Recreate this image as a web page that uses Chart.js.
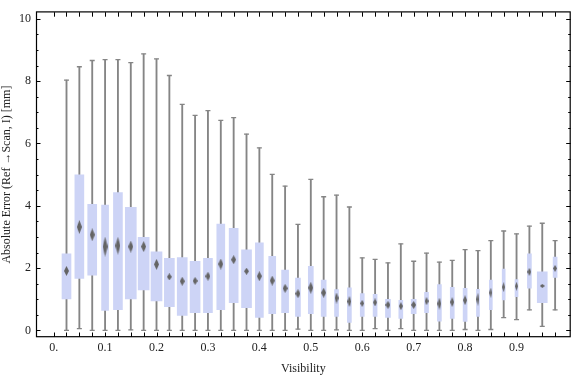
<!DOCTYPE html>
<html><head><meta charset="utf-8">
<script src="https://cdn.jsdelivr.net/npm/chart.js@4"></script>
<style>html,body{margin:0;padding:0;background:#fff;}#wrap{width:576px;height:377px;}</style>
</head><body><div id="wrap"><canvas id="c" width="576" height="377"></canvas></div>
<script>
// ---- data ----
const visibility = [0.025,0.05,0.075,0.1,0.125,0.15,0.175,0.2,0.225,0.25,0.275,0.3,0.325,0.35,0.375,0.4,0.425,0.45,0.475,0.5,0.525,0.55,0.575,0.6,0.625,0.65,0.675,0.7,0.725,0.75,0.775,0.8,0.825,0.85,0.875,0.9,0.925,0.95,0.975];
const whiskerLow  = [0,0.06,0,0,0,0.02,0,0,0,0,0,0,0,0,0,0,0,0,0.04,0,0,0.02,0,0,0.06,0,0.06,0,0,0,0,0.03,0,0.03,0.41,0.35,0.66,0.13,0.66];
const quartile1   = [1.01,1.67,1.77,0.64,0.67,1.01,1.30,0.95,0.76,0.48,0.57,0.57,0.67,0.89,0.73,0.42,0.54,0.57,0.45,0.54,0.45,0.45,0.26,0.45,0.45,0.42,0.39,0.54,0.57,0.30,0.39,0.29,0.45,0.67,0.98,1.08,1.36,0.89,1.70];
const median      = [1.91,3.32,3.07,2.69,2.72,2.69,2.69,2.12,1.72,1.58,1.59,1.74,2.13,2.27,1.90,1.74,1.60,1.35,1.18,1.37,1.21,1.04,0.93,0.87,0.90,0.82,0.78,0.82,0.94,0.86,0.91,0.97,1.00,1.21,1.39,1.42,1.88,1.43,1.99];
const quartile3   = [2.46,4.99,4.05,4.02,4.42,3.95,2.99,2.52,2.31,2.34,2.22,2.31,3.41,3.28,2.59,2.81,2.38,1.94,1.68,2.06,1.62,1.31,1.37,1.18,1.16,1.00,0.97,1.00,1.22,1.47,1.38,1.35,1.32,1.62,1.97,1.63,2.46,1.88,2.35];
const whiskerHigh = [8.03,8.46,8.66,8.69,8.69,8.59,8.87,8.71,8.18,7.25,6.90,7.05,6.74,6.83,6.30,5.86,5.01,4.63,3.40,4.85,4.29,4.34,3.96,2.33,2.28,2.17,2.78,2.22,2.48,2.19,2.25,2.59,2.56,2.88,3.19,3.10,3.35,3.44,2.88];
const xTickValues = [0,0.1,0.2,0.3,0.4,0.5,0.6,0.7,0.8,0.9];
const xTickLabels = ["0.","0.1","0.2","0.3","0.4","0.5","0.6","0.7","0.8","0.9"];
const yTickValues = [0,2,4,6,8,10];
const yTickLabels = ["0","2","4","6","8","10"];

// ---- styles (sizes in px) ----
const boxWidths = [9,9,9,7,9,11,11,11,10,10,10,9,8,9,10,8,7,7,5,5,5,4,4,4,4,5,4,5,4,4,4,4,3,3,3,3,4,10,4];
const diamondHeights = [10,14,13,20,18,12,11,11,7,9,8,9,11,9,7,10,10,9,9,12,10,11,11,7,8,8,8,8,8,12,10,10,13,10,10,9,8,4,7];
const boxColor = 'rgb(205,212,246)';
const whiskerColor = '#858585';
const diamondColor = 'rgb(100,100,100)';
const FONT = {family:'"Liberation Serif", "Times New Roman", serif', size:12};

function diamondCanvas(w, h) {
  const c = document.createElement('canvas');
  c.width = w; c.height = h;
  const g = c.getContext('2d');
  g.fillStyle = diamondColor;
  g.beginPath();
  g.moveTo(w/2, 0); g.lineTo(w, h/2); g.lineTo(w/2, h); g.lineTo(0, h/2);
  g.closePath(); g.fill();
  return c;
}
const diamonds = visibility.map((v,i)=>diamondCanvas(Math.min(5, boxWidths[i]), diamondHeights[i]));

const datasets = [];
datasets.push({
  type:'bar', label:'whiskers', grouped:false, order:3,
  data: visibility.map((v,i)=>({x:v, y:[whiskerLow[i], whiskerHigh[i]]})),
  barThickness:1.2, backgroundColor:whiskerColor, borderWidth:0
});
[...new Set(boxWidths)].forEach(w=>{
  const idx = visibility.map((v,i)=>i).filter(i=>boxWidths[i]===w);
  datasets.push({
    type:'bar', label:'box'+w, grouped:false, order:2,
    data: idx.map(i=>({x:visibility[i], y:[quartile1[i], quartile3[i]]})),
    barThickness:w, backgroundColor:boxColor, borderWidth:0
  });
});
datasets.push({
  type:'scatter', label:'caps', order:1, showLine:false,
  data: visibility.map((v,i)=>({x:v,y:whiskerLow[i]})).concat(visibility.map((v,i)=>({x:v,y:whiskerHigh[i]}))),
  pointStyle:'line', pointRadius:2.5, borderColor:whiskerColor, pointBorderColor:whiskerColor, pointBorderWidth:1.3
});
datasets.push({
  type:'scatter', label:'median', order:0, showLine:false,
  data: visibility.map((v,i)=>({x:v,y:median[i]})),
  pointStyle: ctx => diamonds[ctx.dataIndex], pointRadius:3
});

const framePlugin = {
  id:'frame',
  afterDraw(chart){
    const {ctx, chartArea:{left,right,top,bottom}, scales:{x,y}} = chart;
    ctx.save();
    ctx.strokeStyle = '#000';
    ctx.lineWidth = 1.2;
    ctx.strokeRect(left+0.5, top-0.3, right-left-1, bottom-top);
    ctx.lineWidth = 1;
    ctx.beginPath();
    [0].concat(visibility).forEach(v=>{
      const px = Math.round(x.getPixelForValue(v))+0.5;
      ctx.moveTo(px, bottom); ctx.lineTo(px, bottom-4.5);
      ctx.moveTo(px, top); ctx.lineTo(px, top+4.5);
    });
    for (let k=0; k<=20; k++) {
      const val = k/2;
      const py = Math.round(y.getPixelForValue(val))+0.5;
      const len = (k%4===0) ? 4.5 : 2.5;
      ctx.moveTo(left, py); ctx.lineTo(left+len, py);
      ctx.moveTo(right, py); ctx.lineTo(right-len, py);
    }
    ctx.stroke();
    ctx.restore();
  }
};

new Chart(document.getElementById('c'), {
  type:'bar',
  data:{datasets},
  plugins:[framePlugin],
  options:{
    responsive:false, animation:false, devicePixelRatio:1,
    layout:{padding:{top:5,right:2,left:0,bottom:0}},
    plugins:{legend:{display:false}, tooltip:{enabled:false}},
    scales:{
      x:{type:'linear', min:-0.0343, max:1.0053, offset:false,
        grid:{display:false, drawTicks:false}, border:{display:false},
        ticks:{padding:4, font:FONT, color:'#222', autoSkip:false, maxRotation:0,
          callback:(v,i)=>xTickLabels[i]},
        afterBuildTicks:s=>{s.ticks = xTickValues.map(v=>({value:v}));},
        afterFit:s=>{s.height = 40;},
        title:{display:true, text:'Visibility', font:FONT, color:'#222', padding:{top:0,bottom:1}}
      },
      y:{min:-0.21, max:10.21,
        grid:{display:false, drawTicks:false}, border:{display:false},
        ticks:{padding:5, font:FONT, color:'#222', autoSkip:false,
          callback:(v,i)=>yTickLabels[i]},
        afterBuildTicks:s=>{s.ticks = yTickValues.map(v=>({value:v}));},
        afterFit:s=>{s.width = 36;},
        title:{display:true, text:'Absolute Error (Ref \u2192Scan, I) [mm]', font:FONT, color:'#222', padding:{top:0,bottom:0}}
      }
    }
  }
});
</script></body></html>
